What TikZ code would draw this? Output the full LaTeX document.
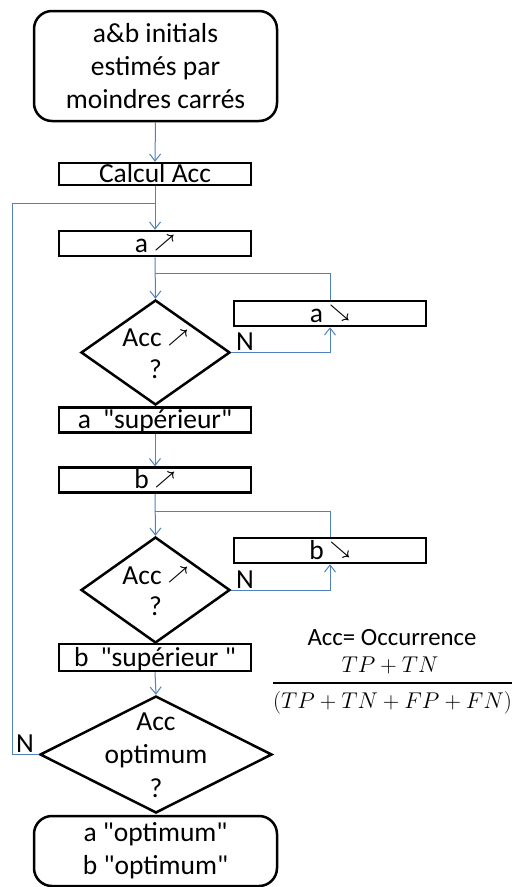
\documentclass[tikz,border=0pt]{standalone}
\usepackage{fix-cm}
\usepackage[no-math]{fontspec}
\setmainfont{Carlito}[Ligatures=TeXOff]
\usetikzlibrary{arrows.meta,shapes.geometric}
\definecolor{flowblue}{RGB}{79,129,189}
\newcommand{\upar}{\raisebox{4.5pt}{\fontsize{18}{18}\selectfont\boldmath$\nearrow$}}
\newcommand{\downar}{\raisebox{4.5pt}{\fontsize{18}{18}\selectfont\boldmath$\searrow$}}
\begin{document}
\begin{tikzpicture}[x=1pt,y=-1pt,
  every node/.style={font=\fontsize{27.5}{33}\selectfont},
  box/.style={draw=black,line width=2.5pt,minimum width=192pt,minimum height=25pt,
    inner sep=0pt,text height=19pt,text depth=2pt},
  roundbox/.style={draw=black,line width=2.5pt,rounded corners=18pt,minimum width=243pt,
    inner sep=0pt,align=center},
  decision/.style={draw=black,line width=2.5pt,shape=diamond,inner sep=0pt},
  dtext/.style={align=center,inner sep=0pt},
  flow/.style={draw=flowblue,line width=1pt},
  flowarrow/.style={flow,-{Straight Barb[length=7pt,width=11pt]}},
  nlabel/.style={anchor=base,inner sep=0pt},
  mathtext/.style={nlabel,font=\fontsize{22.8}{27}\selectfont}
]
\useasboundingbox (0,0) rectangle (512,887);

% nodes
\node[roundbox,minimum height=110pt] (start) at (155.5,66) {a\&b initials\\estimés par\\moindres carrés};
\node[box,minimum height=22pt] (calc) at (155,174) {Calcul Acc};
\node[box] (ainc) at (155,243.5) {a \upar};
\node[decision,minimum width=149pt,minimum height=105pt] (d1) at (155.5,352.5) {};
\node[dtext,font=\fontsize{27.5}{31.5}\selectfont] (d1t) at (155.5,354) {Acc \upar\\?};
\node[box] (adec) at (330,313.5) {a \downar};
\node[box] (asup) at (155,420) {a\hspace{12pt}"supérieur"};
\node[box] (binc) at (155,480) {b \upar};
\node[decision,minimum width=149pt,minimum height=106pt] (d2) at (155.5,590) {};
\node[dtext,font=\fontsize{27.5}{31.5}\selectfont] (d2t) at (155.5,591.5) {Acc \upar\\?};
\node[box] (bdec) at (330,550.5) {b \downar};
\node[box,minimum height=27pt] (bsup) at (155,657.5) {b\hspace{12pt}"supérieur "};
\node[decision,minimum width=232pt,minimum height=117pt] (d3) at (156,754.5) {};
\node[dtext,font=\fontsize{27.5}{33.5}\selectfont] (d3t) at (156,755) {Acc\\optimum\\?};
\node[roundbox,minimum height=70pt] (end) at (155.5,851) {a "optimum"\\b "optimum"};

% N labels
\node[nlabel] (n1) at (245,350) {N};
\node[nlabel] (n2) at (245,588) {N};
\node[nlabel] (n3) at (25,752) {N};

% formula
\node[nlabel,font=\fontsize{24.8}{29}\selectfont] (acc) at (392,645) {Acc= Occurrence};
\node[mathtext] (num) at (390,672) {$TP+TN$};
\node[mathtext] (den) at (392.5,708) {$(TP+TN+FP+FN)$};
\draw[line width=2pt] (273,683) -- (512,683);

% junctions
\coordinate (j1) at (155,203);
\coordinate (j2) at (155,273);
\coordinate (j3) at (155,511);
\coordinate (lx) at (12,0);

% connectors
\draw[flowarrow] (start.south) -- (calc.north);
\draw[flowarrow] (calc.south) -- (ainc.north);
\draw[flow] (d3.west) -- (lx |- d3.west) -- (lx |- j1) -- (j1);
\draw[flowarrow] (ainc.south) -- (d1.north);
\draw[flow] (adec.north) |- (j2);
\draw[flowarrow] (d1.east) -| (adec.south);
\draw[flowarrow] (asup.south) -- (binc.north);
\draw[flowarrow] (binc.south) -- (d2.north);
\draw[flow] (bdec.north) |- (j3);
\draw[flowarrow] (d2.east) -| (bdec.south);
\draw[flowarrow] (bsup.south) -- (d3.north);
\end{tikzpicture}
\end{document}
